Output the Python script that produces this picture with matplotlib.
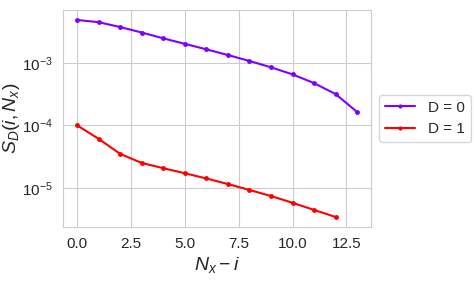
import matplotlib
matplotlib.use("Agg")
import matplotlib.pyplot as plt
import seaborn as sns

sns.set_style("whitegrid")
plt.rcParams["font.family"] = ["Arial", "Liberation Sans", "DejaVu Sans"]
plt.rcParams["mathtext.fontset"] = "custom"
plt.rcParams["mathtext.rm"] = "Liberation Sans"
plt.rcParams["mathtext.it"] = "Liberation Sans:italic"

# N_x - i
x_d0 = list(range(14))
x_d1 = list(range(13))

s_d0 = [4.84e-3, 4.46e-3, 3.73e-3, 3.05e-3, 2.46e-3, 2.01e-3, 1.64e-3,
        1.33e-3, 1.07e-3, 8.46e-4, 6.53e-4, 4.73e-4, 3.16e-4, 1.63e-4]
s_d1 = [1.0e-4, 6.08e-5, 3.49e-5, 2.50e-5, 2.06e-5, 1.71e-5, 1.41e-5,
        1.15e-5, 9.24e-6, 7.39e-6, 5.76e-6, 4.43e-6, 3.41e-6]

labels = ["D = 0", "D = 1"]
colors = ["#8000ff", "#ff0000"]

fig = plt.figure(figsize=(4.74, 2.89), dpi=100)
ax = fig.add_axes([0.133, 0.215, 0.650, 0.750])
ax.plot(x_d0, s_d0, marker=".", ms=5, lw=1.5, color=colors[0], label=labels[0])
ax.plot(x_d1, s_d1, marker=".", ms=5, lw=1.5, color=colors[1], label=labels[1])
ax.set_yscale("log")
ax.set_xlabel(r"$N_x - i$", fontsize=14, labelpad=3)
ax.set_ylabel(r"$S_D(i, N_x)$", fontsize=14, labelpad=0)
ax.tick_params(labelsize=11, pad=4)
ax.legend(loc="center left", bbox_to_anchor=(1.0, 0.5), fontsize=11,
          markerscale=0.8)
fig.savefig("out.png", dpi=100)
